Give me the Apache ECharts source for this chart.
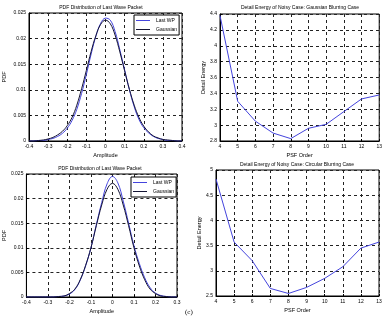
<!DOCTYPE html>
<html>
<head>
<meta charset="utf-8">
<script src="https://cdn.jsdelivr.net/npm/echarts@6/dist/echarts.min.js"></script>
<style>
  html, body { margin: 0; padding: 0; background: #fff; }
  #chart { width: 385px; height: 322px; }
</style>
</head>
<body>
<div id="chart"></div>
<script>
// amplitude grid for the two PDF plots
var ampTop = [-0.4, -0.375, -0.35, -0.325, -0.3, -0.275, -0.25, -0.225, -0.2, -0.175, -0.15, -0.125, -0.1, -0.075, -0.05, -0.025,
  0, 0.025, 0.05, 0.075, 0.1, 0.125, 0.15, 0.175, 0.2, 0.225, 0.25, 0.275, 0.3, 0.325, 0.35, 0.375, 0.4]
var lastWpTop = [0, 0, 0.0001, 0.0001, 0.0003, 0.0005, 0.0009, 0.0015, 0.0025, 0.0040, 0.0062, 0.0093, 0.0130, 0.0170, 0.0205, 0.0230,
  0.0240, 0.0236, 0.0214, 0.0178, 0.0139, 0.0100, 0.0067, 0.0042, 0.0026, 0.0016, 0.0009, 0.0005, 0.0003, 0.0001, 0.0001, 0, 0]
var gaussTop = [0, 0, 0.0001, 0.0002, 0.0004, 0.0007, 0.0012, 0.0019, 0.0030, 0.0046, 0.0070, 0.0102, 0.0138, 0.0175, 0.0206, 0.0228,
  0.0236, 0.0229, 0.0207, 0.0174, 0.0137, 0.0101, 0.0070, 0.0046, 0.0029, 0.0018, 0.0010, 0.0006, 0.0003, 0.0002, 0.0001, 0, 0]

var ampBottom = [-0.4, -0.375, -0.35, -0.325, -0.3, -0.275, -0.25, -0.225, -0.2, -0.175, -0.15, -0.125, -0.1, -0.075, -0.05, -0.025,
  0, 0.025, 0.05, 0.075, 0.1, 0.125, 0.15, 0.175, 0.2, 0.225, 0.25, 0.275, 0.3]
var lastWpBottom = [0, 0, 0, 0, 0, 0, 0.0001, 0.0002, 0.0006, 0.0015, 0.0034, 0.0063, 0.0100, 0.0147, 0.0192, 0.0230,
  0.0245, 0.0232, 0.0195, 0.0150, 0.0104, 0.0068, 0.0039, 0.0019, 0.0008, 0.0003, 0.0001, 0, 0]
var gaussBottom = [0, 0, 0, 0, 0, 0, 0.0001, 0.0002, 0.0007, 0.0016, 0.0035, 0.0064, 0.0100, 0.0145, 0.0187, 0.0219,
  0.0231, 0.0219, 0.0187, 0.0145, 0.0100, 0.0063, 0.0035, 0.0016, 0.0007, 0.0002, 0.0001, 0, 0]

// detail energy vs PSF order
var psfOrder = [4, 5, 6, 7, 8, 9, 10, 11, 12, 13]
var energyGaussian = [4.38, 3.30, 3.05, 2.90, 2.83, 2.96, 3.01, 3.17, 3.33, 3.38]
var energyCircular = [4.82, 3.57, 3.20, 2.65, 2.55, 2.67, 2.85, 3.08, 3.45, 3.57]

function pairs(xs, ys) {
  return xs.map(function (x, i) { return [x, ys[i]] })
}

var FONT = 'Liberation Sans'
var BLUE = '#4444dd'
var DARK = '#151535'

function xAx(idx, min, max, interval, name) {
  return {
    type: 'value', gridIndex: idx, min: min, max: max, interval: interval,
    name: name, nameLocation: 'middle', nameGap: 11,
    nameTextStyle: { fontFamily: FONT, fontSize: 5.5, color: '#000' },
    axisLine: { show: true, onZero: false, lineStyle: { color: '#000', width: 1 } },
    axisTick: { show: true, inside: true, length: 2, lineStyle: { color: '#000' } },
    axisLabel: { fontFamily: FONT, fontSize: 5, color: '#000', margin: 3 },
    splitLine: { show: true, lineStyle: { color: '#222', type: [3, 3], width: 1 } }
  }
}
function yAx(idx, min, max, interval, name, gap) {
  return {
    type: 'value', gridIndex: idx, min: min, max: max, interval: interval,
    name: name, nameLocation: 'middle', nameGap: gap,
    nameTextStyle: { fontFamily: FONT, fontSize: 5.5, color: '#000' },
    axisLine: { show: true, onZero: false, lineStyle: { color: '#000', width: 1 } },
    axisTick: { show: true, inside: true, length: 2, lineStyle: { color: '#000' } },
    axisLabel: { fontFamily: FONT, fontSize: 5, color: '#000', margin: 3 },
    splitLine: { show: true, lineStyle: { color: '#222', type: [3, 3], width: 1 } }
  }
}
function ttl(text, x, y) {
  return {
    text: text, left: x, top: y, textAlign: 'center', padding: 0,
    textStyle: { fontFamily: FONT, fontSize: 5, fontWeight: 'normal', color: '#000' }
  }
}
function lgd(x, y) {
  return {
    left: x, top: y, orient: 'vertical', data: ['Last WP', 'Gaussian'],
    icon: 'rect',
    backgroundColor: '#fff', borderColor: '#000', borderWidth: 1, borderRadius: 0,
    padding: [3, 2, 3, 2], itemGap: 4, itemWidth: 14, itemHeight: 1,
    textStyle: { fontFamily: FONT, fontSize: 5, color: '#000', padding: [0, 0, 0, 1] }
  }
}
function line(name, idx, data, color, smooth) {
  return {
    name: name, type: 'line', xAxisIndex: idx, yAxisIndex: idx, data: data,
    symbol: 'none', smooth: smooth, animation: false,
    lineStyle: { color: color, width: 1 }, itemStyle: { color: color }
  }
}

var chart = echarts.init(document.getElementById('chart'), null, { renderer: 'canvas' })
var gridStyle = { show: true, borderColor: '#000', borderWidth: 1, backgroundColor: '#fff' }
chart.setOption({
  animation: false,
  backgroundColor: '#fff',
  title: [
    ttl('PDF Distribution of Last Wave Packet', 101, 5),
    ttl('Detail Energy of Noisy Case: Gaussian Blurring Case', 300, 5),
    ttl('PDF Distribution of Last Wave Packet', 100, 166),
    ttl('Detail Energy of Noisy Case: Circular Blurring Case', 297, 162)
  ],
  legend: [lgd(134, 15), lgd(131, 177)],
  grid: [
    Object.assign({ left: 20, top: 13, width: 162, height: 128 }, gridStyle),
    Object.assign({ left: 220, top: 14, width: 161, height: 127 }, gridStyle),
    Object.assign({ left: 21, top: 174, width: 156, height: 123 }, gridStyle),
    Object.assign({ left: 216, top: 170, width: 163, height: 126 }, gridStyle)
  ],
  xAxis: [
    xAx(0, -0.4, 0.4, 0.1, 'Amplitude'),
    xAx(1, 4, 13, 1, 'PSF Order'),
    xAx(2, -0.4, 0.3, 0.1, 'Amplitude'),
    xAx(3, 4, 13, 1, 'PSF Order')
  ],
  yAxis: [
    yAx(0, 0, 0.025, 0.005, 'PDF', 22),
    yAx(1, 2.8, 4.4, 0.2, 'Detail Energy', 14),
    yAx(2, 0, 0.025, 0.005, 'PDF', 18),
    yAx(3, 2.5, 5, 0.5, 'Detail Energy', 13)
  ],
  series: [
    line('Last WP', 0, pairs(ampTop, lastWpTop), BLUE, 0.4),
    line('Gaussian', 0, pairs(ampTop, gaussTop), DARK, 0.4),
    line('Detail Energy', 1, pairs(psfOrder, energyGaussian), BLUE, false),
    line('Last WP', 2, pairs(ampBottom, lastWpBottom), BLUE, 0.4),
    line('Gaussian', 2, pairs(ampBottom, gaussBottom), DARK, 0.4),
    line('Detail Energy', 3, pairs(psfOrder, energyCircular), BLUE, false)
  ],
  graphic: [{
    type: 'text', left: 185, top: 309,
    style: { text: '(c)', font: '7px "Liberation Serif"', fill: '#000' }
  }]
})
</script>
</body>
</html>
